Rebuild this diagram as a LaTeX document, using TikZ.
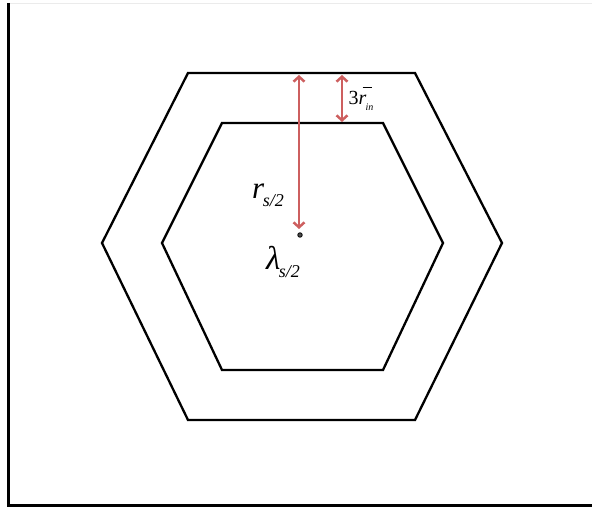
\documentclass[tikz,border=0pt]{standalone}
\usepackage{fontspec}
\setmainfont{Liberation Serif}
\usetikzlibrary{arrows.meta}
\definecolor{arrred}{RGB}{205,95,95}
\newcommand{\mysubtxt}[3]{\raisebox{-#3}{\fontsize{#1}{#1}\selectfont\itshape #2}}
\begin{document}
\begin{tikzpicture}[x=1pt,y=-1pt,
  hexline/.style={line width=2.3pt,line join=miter,black},
  redarrow/.style={line width=2.5pt,arrred,{Straight Barb[length=5pt,width=11pt,line width=2.5pt]}-{Straight Barb[length=5pt,width=11pt,line width=2.5pt]}},
  lbl/.style={inner sep=0pt}]
\useasboundingbox (0,0) rectangle (592,510);
\draw[line width=0.5pt,black!8] (8,3) -- (592,3);
\draw[line width=3pt,black] (8,3) -- (8,505) -- (592,505);
% outer hexagon
\coordinate (o1) at (188,73);
\coordinate (o2) at (415,73);
\coordinate (o3) at (502,243);
\coordinate (o4) at (415,420);
\coordinate (o5) at (188,420);
\coordinate (o6) at (102,243);
\draw[hexline] (o1) -- (o2) -- (o3) -- (o4) -- (o5) -- (o6) -- cycle;
% inner hexagon
\coordinate (i1) at (222,123);
\coordinate (i2) at (383,123);
\coordinate (i3) at (443,243);
\coordinate (i4) at (383,370);
\coordinate (i5) at (222,370);
\coordinate (i6) at (162,243);
\draw[hexline] (i1) -- (i2) -- (i3) -- (i4) -- (i5) -- (i6) -- cycle;
% centre
\node[circle,draw=black,fill=black!70,line width=0.8pt,inner sep=0pt,minimum size=4.5pt] (c) at (300,235) {};
\coordinate (atop) at (299,75);
\coordinate (abot) at (299,229);
\draw[redarrow] (atop) -- (abot);
\coordinate (btop) at (342,75);
\coordinate (bbot) at (342,122);
\draw[redarrow] (btop) -- (bbot);
\node[lbl] (rin) at (361,99) {\fontsize{20}{24}\selectfont 3\itshape\rlap{\hspace{0.2em}\raisebox{0.82em}{\rule{0.45em}{0.7pt}}}r\kern-0.05em\mysubtxt{10}{in}{0.3em}};
\node[lbl] (rs) at (268,195) {\fontsize{31}{34}\selectfont\itshape r\kern-0.05em\mysubtxt{18}{s/2}{0.25em}};
\node[lbl] (lam) at (283,262) {\fontsize{33}{36}\selectfont\itshape λ\kern-0.05em\mysubtxt{18}{s/2}{0.25em}};
\end{tikzpicture}
\end{document}
